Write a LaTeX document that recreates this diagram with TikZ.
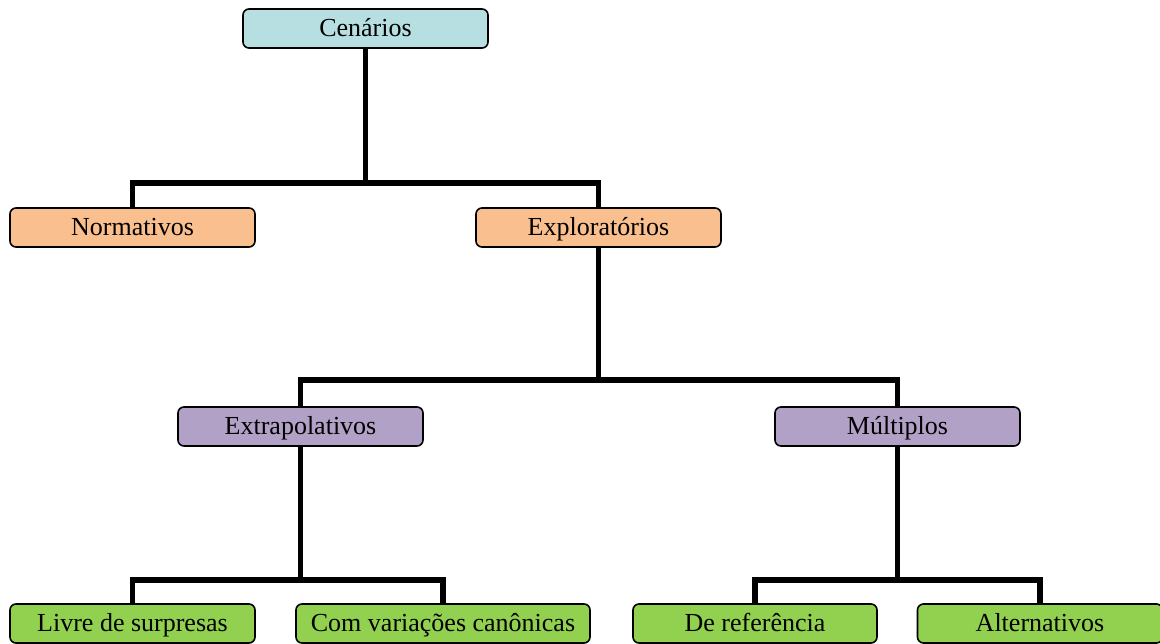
\documentclass[tikz,border=0pt]{standalone}
\usepackage{fontspec}
\setmainfont{Liberation Serif}
\definecolor{cenblue}{RGB}{183,222,225}
\definecolor{exporange}{RGB}{250,191,143}
\definecolor{typpurple}{RGB}{178,161,199}
\definecolor{leafgreen}{RGB}{146,208,80}
\tikzset{
  box/.style={draw,line width=1.6pt,rounded corners=6pt,minimum width=245pt,
    minimum height=39pt,inner sep=0pt,text height=20pt,text depth=4pt,
    font=\fontsize{26}{30}\selectfont},
  conn/.style={line width=5.5pt,line join=miter}
}
\begin{document}
\begin{tikzpicture}[x=1pt,y=-1pt]
  \useasboundingbox (0,0) rectangle (1160,644);
  % boxes
  \node[box,fill=cenblue] (cen) at (365.5,28.5) {Cenários};
  \node[box,fill=exporange] (norm) at (132.5,227.5) {Normativos};
  \node[box,fill=exporange] (expl) at (598.5,227.5) {Exploratórios};
  \node[box,fill=typpurple] (extr) at (300.5,426.5) {Extrapolativos};
  \node[box,fill=typpurple] (mult) at (897.5,426.5) {Múltiplos};
  \node[box,fill=leafgreen] (livre) at (132.5,623.5) {Livre de surpresas};
  \node[box,fill=leafgreen,minimum width=294pt] (canon) at (443,623.5) {Com variações canônicas};
  \node[box,fill=leafgreen,minimum width=244pt] (ref) at (755,623.5) {De referência};
  \node[box,fill=leafgreen] (alt) at (1040,623.5) {Alternativos};
  % junctions
  \coordinate (j1) at (cen.south |- 0,183);
  \coordinate (j2) at (expl.south |- 0,380);
  \coordinate (j3) at (extr.south |- 0,580);
  \coordinate (j4) at (mult.south |- 0,580);
  % connectors
  \draw[conn] (cen.south) -- (j1);
  \draw[conn] (norm.north) |- (j1) -| (expl.north);
  \draw[conn] (expl.south) -- (j2);
  \draw[conn] (extr.north) |- (j2) -| (mult.north);
  \draw[conn] (extr.south) -- (j3);
  \draw[conn] (livre.north) |- (j3) -| (canon.north);
  \draw[conn] (mult.south) -- (j4);
  \draw[conn] (ref.north) |- (j4) -| (alt.north);
\end{tikzpicture}
\end{document}
